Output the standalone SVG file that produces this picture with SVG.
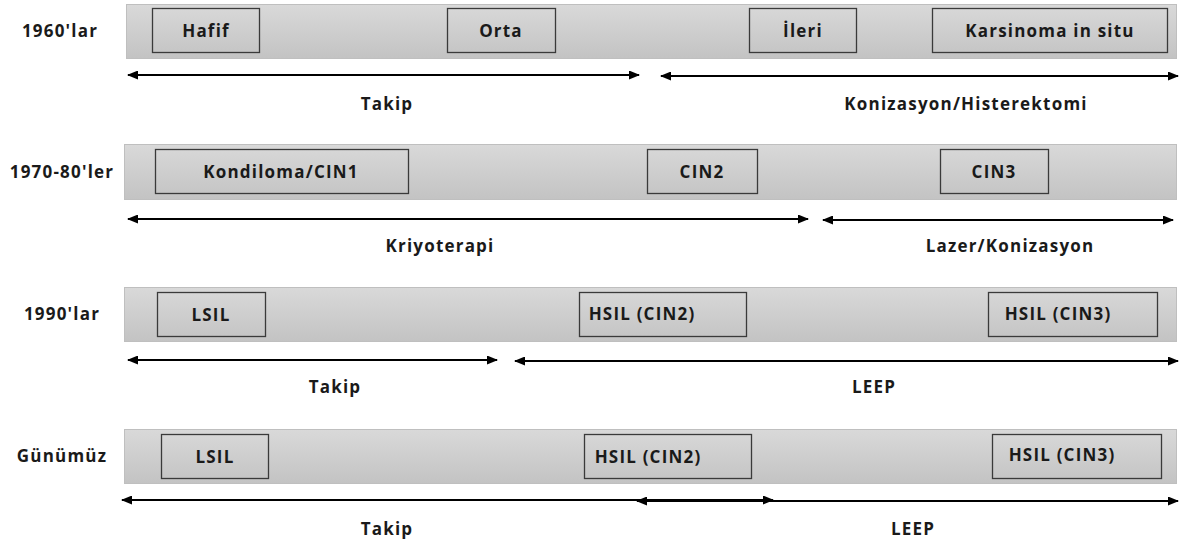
<svg xmlns="http://www.w3.org/2000/svg" width="1184" height="543" viewBox="0 0 1184 543">
<defs>
<linearGradient id="g" x1="0" y1="0" x2="0" y2="1">
<stop offset="0" stop-color="#d9d9d9"/>
<stop offset="1" stop-color="#c3c3c3"/>
</linearGradient>
<marker id="ah" viewBox="0 0 11 9" refX="10" refY="4.5" markerWidth="11" markerHeight="9" markerUnits="userSpaceOnUse" orient="auto-start-reverse">
<path d="M0,0 L11,4.5 L0,9 Z" fill="#000"/>
</marker>
<style>
.band{fill:url(#g);stroke:#bfbfbf;stroke-width:1}
.box{fill:none;stroke:#3a3a3a;stroke-width:1.3}
text{font-family:"Open Sans","Liberation Sans",sans-serif;font-weight:bold;font-size:17px;letter-spacing:1.2px;fill:#1a1a1a;text-anchor:middle;dominant-baseline:central}
.arr{stroke:#000;stroke-width:2;fill:none;marker-start:url(#ah);marker-end:url(#ah)}
</style>
</defs>
<rect x="0" y="0" width="1184" height="543" fill="#fff"/>

<g id="row1">
<text x="60" y="30">1960'lar</text>
<rect class="band" x="126.5" y="4.5" width="1050" height="54"/>
<g id="hafif"><rect class="box" x="152.5" y="8.5" width="107" height="44"/><text x="206" y="30">Hafif</text></g>
<g id="orta"><rect class="box" x="447.5" y="8.5" width="108" height="44"/><text x="501" y="30">Orta</text></g>
<g id="ileri"><rect class="box" x="749.5" y="8.5" width="107" height="44"/><text x="803" y="30">İleri</text></g>
<g id="karsinoma"><rect class="box" x="932.5" y="8.5" width="235" height="44"/><text x="1050" y="30">Karsinoma in situ</text></g>
<text x="387" y="103">Takip</text>
<text x="966" y="103">Konizasyon/Histerektomi</text>
</g>

<g id="row2">
<text x="62" y="171">1970-80'ler</text>
<rect class="band" x="124.5" y="144.5" width="1052" height="55"/>
<g id="kondiloma"><rect class="box" x="155.5" y="149.5" width="253" height="44"/><text x="281" y="171">Kondiloma/CIN1</text></g>
<g id="cin2"><rect class="box" x="647.5" y="149.5" width="110" height="44"/><text x="702" y="171">CIN2</text></g>
<g id="cin3"><rect class="box" x="940.5" y="149.5" width="108" height="44"/><text x="994" y="171">CIN3</text></g>
<text x="440" y="245">Kriyoterapi</text>
<text x="1010" y="245">Lazer/Konizasyon</text>
</g>

<g id="row3">
<text x="62" y="313">1990'lar</text>
<rect class="band" x="124.5" y="287.5" width="1052" height="54"/>
<g id="lsil1"><rect class="box" x="157.5" y="292.5" width="108" height="44"/><text x="211" y="314">LSIL</text></g>
<g id="hsil2a"><rect class="box" x="579.5" y="292.5" width="167" height="44"/><text x="642" y="313">HSIL (CIN2)</text></g>
<g id="hsil3a"><rect class="box" x="988.5" y="292.5" width="169" height="44"/><text x="1058" y="313">HSIL (CIN3)</text></g>
<text x="335" y="386">Takip</text>
<text x="874" y="386">LEEP</text>
</g>

<g id="row4">
<text x="62" y="455">Günümüz</text>
<rect class="band" x="124.5" y="429.5" width="1052" height="54"/>
<g id="lsil2"><rect class="box" x="161.5" y="434.5" width="107" height="44"/><text x="215" y="456">LSIL</text></g>
<g id="hsil2b"><rect class="box" x="584.5" y="434.5" width="167" height="44"/><text x="648" y="456">HSIL (CIN2)</text></g>
<g id="hsil3b"><rect class="box" x="992.5" y="434.5" width="169" height="44"/><text x="1062" y="454">HSIL (CIN3)</text></g>
<text x="387" y="528">Takip</text>
<text x="913" y="528">LEEP</text>
</g>

<g id="connectors">
<line class="arr" x1="128" y1="75" x2="639" y2="75"/>
<line class="arr" x1="661" y1="76" x2="1178" y2="76"/>
<line class="arr" x1="128" y1="219" x2="808" y2="219"/>
<line class="arr" x1="823" y1="220" x2="1173" y2="220"/>
<line class="arr" x1="128" y1="360" x2="497" y2="360"/>
<line class="arr" x1="515" y1="361" x2="1178" y2="361"/>
<line class="arr" x1="122" y1="500" x2="773" y2="500"/>
<line class="arr" x1="637" y1="501" x2="1178" y2="501"/>
</g>
</svg>
